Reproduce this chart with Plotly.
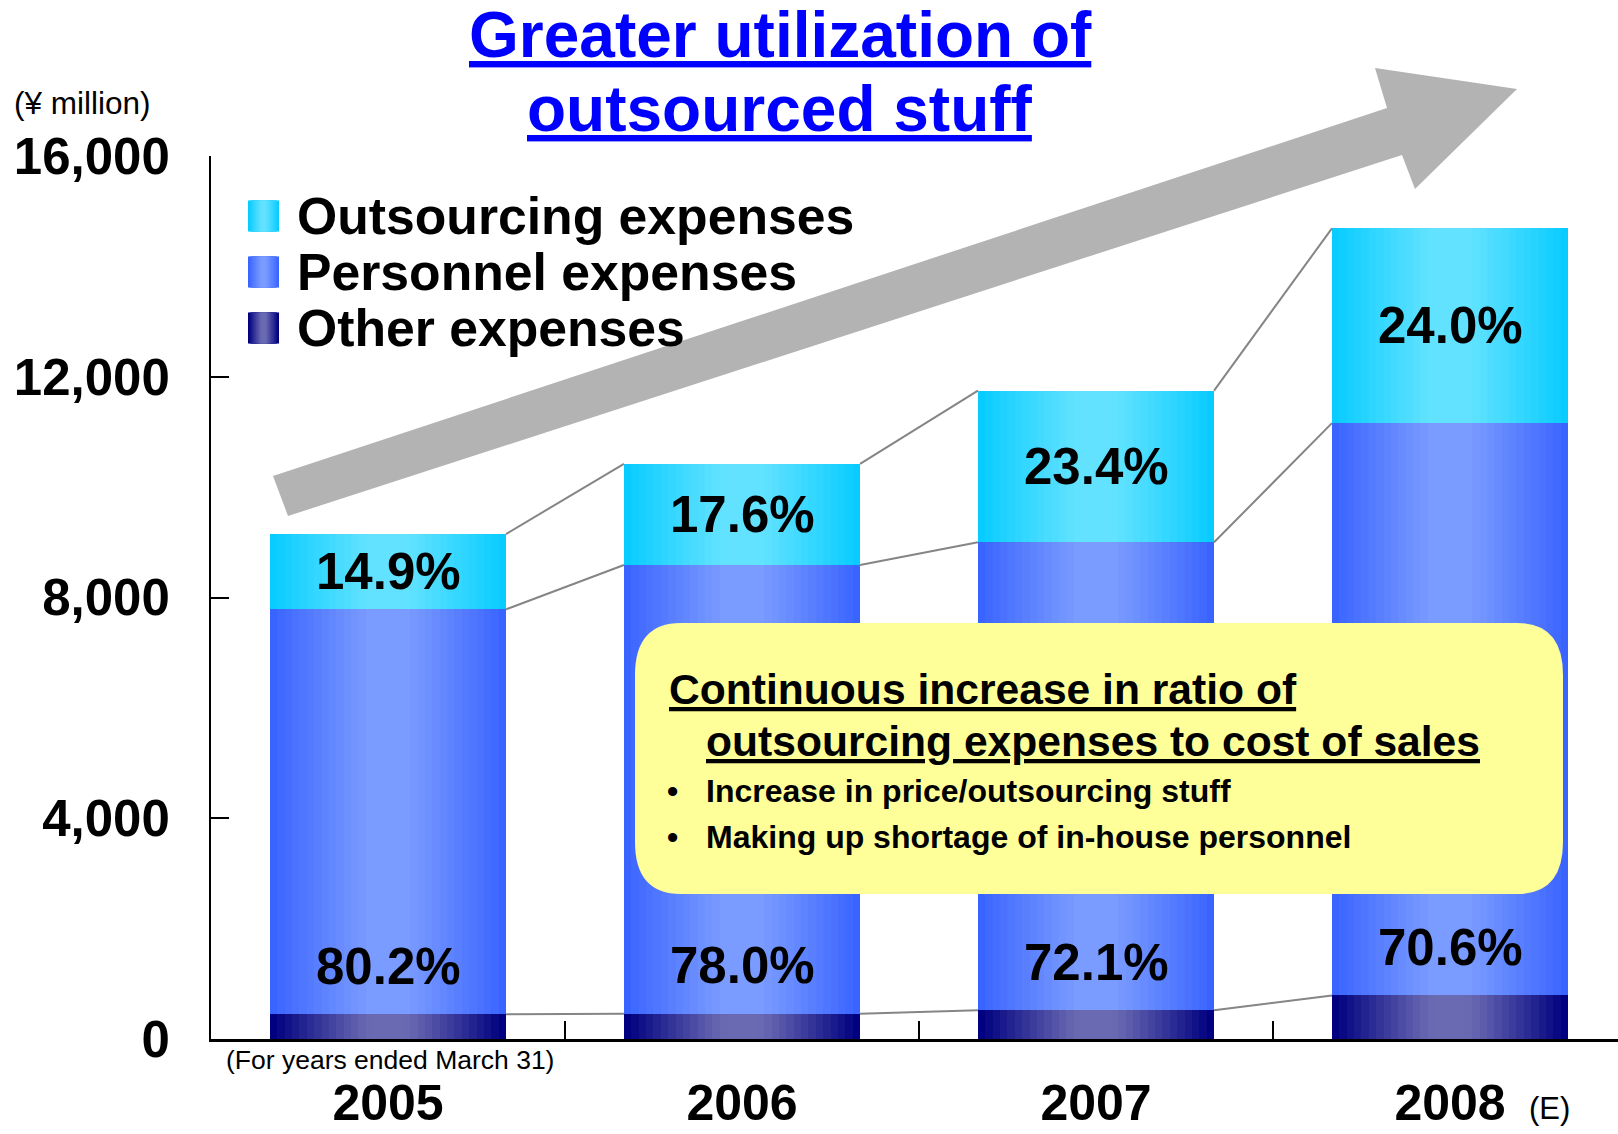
import plotly.graph_objects as go
import numpy as np

# ---------------- data ----------------
years = ["2005", "2006", "2007", "2008"]
other = [448, 459, 520, 790]
personnel = [7338, 8130, 8480, 10370]
outsourcing = [1364, 1834, 2750, 3530]
pct_outsourcing = ["14.9%", "17.6%", "23.4%", "24.0%"]
pct_personnel = ["80.2%", "78.0%", "72.1%", "70.6%"]
y_ticks = [0, 4000, 8000, 12000, 16000]
series_names = ["Outsourcing expenses", "Personnel expenses", "Other expenses"]

# ---------------- geometry / style ----------------
W, H = 1618, 1134
L, T, BOT = 211, 156, 1039
PW, PH = W - L, BOT - T
X_MIN = -0.5
X_MAX = X_MIN + PW / 354.0
BAR_W = 0.667
FONT = "Liberation Sans, Arial, sans-serif"


def px2x(px):
    return (px - L) / PW


def py2y(py):
    return (BOT - py) / PH


def hex2rgb(h):
    h = h.lstrip("#")
    return np.array([int(h[i:i + 2], 16) for i in (0, 2, 4)], dtype=float)


def mix(c_edge, c_center, d):
    g = np.clip((d - 0.18) / 0.82, 0, 1) ** 1.1
    c = hex2rgb(c_center) + (hex2rgb(c_edge) - hex2rgb(c_center)) * g
    return "rgb(%d,%d,%d)" % tuple(np.round(c))


palette = {
    "Other expenses": ("#000080", "#6a6ab2"),
    "Personnel expenses": ("#3a64ff", "#7a9bff"),
    "Outsourcing expenses": ("#08ccff", "#62e2ff"),
}

x = np.arange(len(years))
other_a = np.array(other, float)
pers_a = np.array(personnel, float)
out_a = np.array(outsourcing, float)
bases = {
    "Other expenses": (np.zeros(len(years)), other_a),
    "Personnel expenses": (other_a, pers_a),
    "Outsourcing expenses": (other_a + pers_a, out_a),
}

fig = go.Figure()

# connector lines between bar corners
for level in [other_a, other_a + pers_a, other_a + pers_a + out_a]:
    for i in range(len(years) - 1):
        fig.add_trace(go.Scatter(
            x=[x[i] + BAR_W / 2, x[i + 1] - BAR_W / 2],
            y=[level[i], level[i + 1]],
            mode="lines", line=dict(color="#858585", width=2),
            showlegend=False, hoverinfo="skip"))

# stacked bars with horizontal gradient (nested layers)
N = 16
for name in ["Other expenses", "Personnel expenses", "Outsourcing expenses"]:
    base, vals = bases[name]
    edge, center = palette[name]
    for k in range(N):
        d = 1 - k / N
        fig.add_trace(go.Bar(
            x=x, y=vals, base=base, width=BAR_W * d,
            marker=dict(color=mix(edge, center, d), line=dict(width=0)),
            name=name, showlegend=False, hoverinfo="skip"))

shapes = []
annotations = []

# big grey arrow (decoration)
arrow_px = [(273, 476), (1387, 108), (1375, 68), (1517, 89), (1415, 189),
            (1402, 155), (288, 516)]
path = "M " + " L ".join("%.5f,%.5f" % (px2x(a), py2y(b)) for a, b in arrow_px) + " Z"
shapes.append(dict(type="path", path=path, xref="paper", yref="paper",
                   fillcolor="#b3b3b3", line=dict(width=0), layer="below"))

# yellow rounded callout box
bx0, by0, bx1, by1, rx, ry = 635, 623, 1563, 894, 46, 52


def P(a, b):
    return "%.5f,%.5f" % (px2x(a), py2y(b))


box = ("M " + P(bx0 + rx, by0) + " L " + P(bx1 - rx, by0) +
       " Q " + P(bx1, by0) + " " + P(bx1, by0 + ry) +
       " L " + P(bx1, by1 - ry) + " Q " + P(bx1, by1) + " " + P(bx1 - rx, by1) +
       " L " + P(bx0 + rx, by1) + " Q " + P(bx0, by1) + " " + P(bx0, by1 - ry) +
       " L " + P(bx0, by0 + ry) + " Q " + P(bx0, by0) + " " + P(bx0 + rx, by0) + " Z")
shapes.append(dict(type="path", path=box, xref="paper", yref="paper",
                   fillcolor="#ffff99", line=dict(width=0), layer="above"))

# custom legend (gradient squares + text)
leg_y = [216, 272, 328]
for name, cy in zip(series_names, leg_y):
    edge, center = palette[name]
    s = 31
    x0, x1 = 248, 248 + s
    M = 10
    for k in range(M):
        d = 1 - k / M
        cx = (x0 + x1) / 2
        hw = s / 2 * d
        shapes.append(dict(type="rect", xref="paper", yref="paper",
                           x0=px2x(cx - hw), x1=px2x(cx + hw),
                           y0=py2y(cy + s / 2), y1=py2y(cy - s / 2),
                           fillcolor=mix(edge, center, d), line=dict(width=0),
                           layer="above"))
    annotations.append(dict(text=name, xref="paper", yref="paper",
                            x=px2x(295), y=py2y(cy), xanchor="left", yanchor="middle",
                            showarrow=False,
                            font=dict(family=FONT, size=51.7, color="black", weight="bold")))

# bar percentage labels
for i in range(len(years)):
    top_base = other_a[i] + pers_a[i]
    annotations.append(dict(text=pct_outsourcing[i], x=x[i], y=top_base + out_a[i] / 2,
                            xref="x", yref="y", showarrow=False, yanchor="middle",
                            font=dict(family=FONT, size=51, color="black", weight="bold")))
    annotations.append(dict(text=pct_personnel[i], x=x[i], y=other_a[i],
                            xref="x", yref="y", showarrow=False, yanchor="middle",
                            yshift=48,
                            font=dict(family=FONT, size=51, color="black", weight="bold")))

# title
for txt, cy in [("Greater utilization of", 35), ("outsourced stuff", 109)]:
    annotations.append(dict(text="<u>" + txt + "</u>", xref="paper", yref="paper",
                            x=px2x(780), y=py2y(cy), xanchor="center", yanchor="middle",
                            showarrow=False,
                            font=dict(family=FONT, size=64, color="#0000ff", weight="bold")))

# callout texts
box_lines = [
    ("<u>Continuous increase in ratio of</u>", 667, 689, 42.6),
    ("<u>outsourcing expenses to cost of sales</u>", 704, 741, 42.6),
]
for txt, lx, cy, sz in box_lines:
    annotations.append(dict(text=txt, xref="paper", yref="paper", x=px2x(lx), y=py2y(cy),
                            xanchor="left", yanchor="middle", showarrow=False,
                            font=dict(family=FONT, size=sz, color="black", weight="bold")))
bullets = [("Increase in price/outsourcing stuff", 791), ("Making up shortage of in-house personnel", 837)]
for txt, cy in bullets:
    annotations.append(dict(text="•", xref="paper", yref="paper", x=px2x(665), y=py2y(cy),
                            xanchor="left", yanchor="middle", showarrow=False,
                            font=dict(family=FONT, size=32, color="black", weight="bold")))
    annotations.append(dict(text=txt, xref="paper", yref="paper", x=px2x(704), y=py2y(cy),
                            xanchor="left", yanchor="middle", showarrow=False,
                            font=dict(family=FONT, size=32, color="black", weight="bold")))

# small notes
annotations.append(dict(text="(¥ million)", xref="paper", yref="paper", x=px2x(12), y=py2y(103),
                        xanchor="left", yanchor="middle", showarrow=False,
                        font=dict(family=FONT, size=31.5, color="black")))
annotations.append(dict(text="(For years ended March 31)", xref="paper", yref="paper",
                        x=px2x(224), y=py2y(1060), xanchor="left", yanchor="middle",
                        showarrow=False, font=dict(family=FONT, size=26.5, color="black")))
annotations.append(dict(text="(E)", xref="paper", yref="paper", x=px2x(1527), y=py2y(1108),
                        xanchor="left", yanchor="middle", showarrow=False,
                        font=dict(family=FONT, size=31, color="black")))

fig.update_layout(
    width=W, height=H, autosize=False,
    margin=dict(l=L, r=W - L - PW, t=T, b=H - BOT, pad=0, autoexpand=False),
    paper_bgcolor="white", plot_bgcolor="white",
    barmode="overlay", bargap=0,
    showlegend=False,
    shapes=shapes, annotations=annotations,
    font=dict(family=FONT, color="black"),
)
fig.update_xaxes(
    range=[X_MIN, X_MAX], tickvals=list(x), ticktext=years, ticks="",
    automargin=False,
    showline=True, linecolor="black", linewidth=3, showgrid=False, zeroline=False,
    tickfont=dict(family=FONT, size=50, color="black", weight="bold"),
    ticklabelstandoff=18,
    minor=dict(tickvals=[0.5, 1.5, 2.5], ticks="inside", ticklen=18, tickwidth=2,
               tickcolor="black", showgrid=False),
)
fig.update_yaxes(
    range=[0, 16000], tickvals=y_ticks, tickformat=",", ticks="inside", ticklen=18,
    automargin=False,
    tickwidth=2, tickcolor="black", showline=True, linecolor="black", linewidth=2,
    showgrid=False, zeroline=False,
    tickfont=dict(family=FONT, size=51, color="black", weight="bold"),
    ticklabelstandoff=29,
)

fig.write_html("out.html", config={"displayModeBar": False},
               post_script="document.body.style.margin='0';document.body.style.overflow='hidden';")
